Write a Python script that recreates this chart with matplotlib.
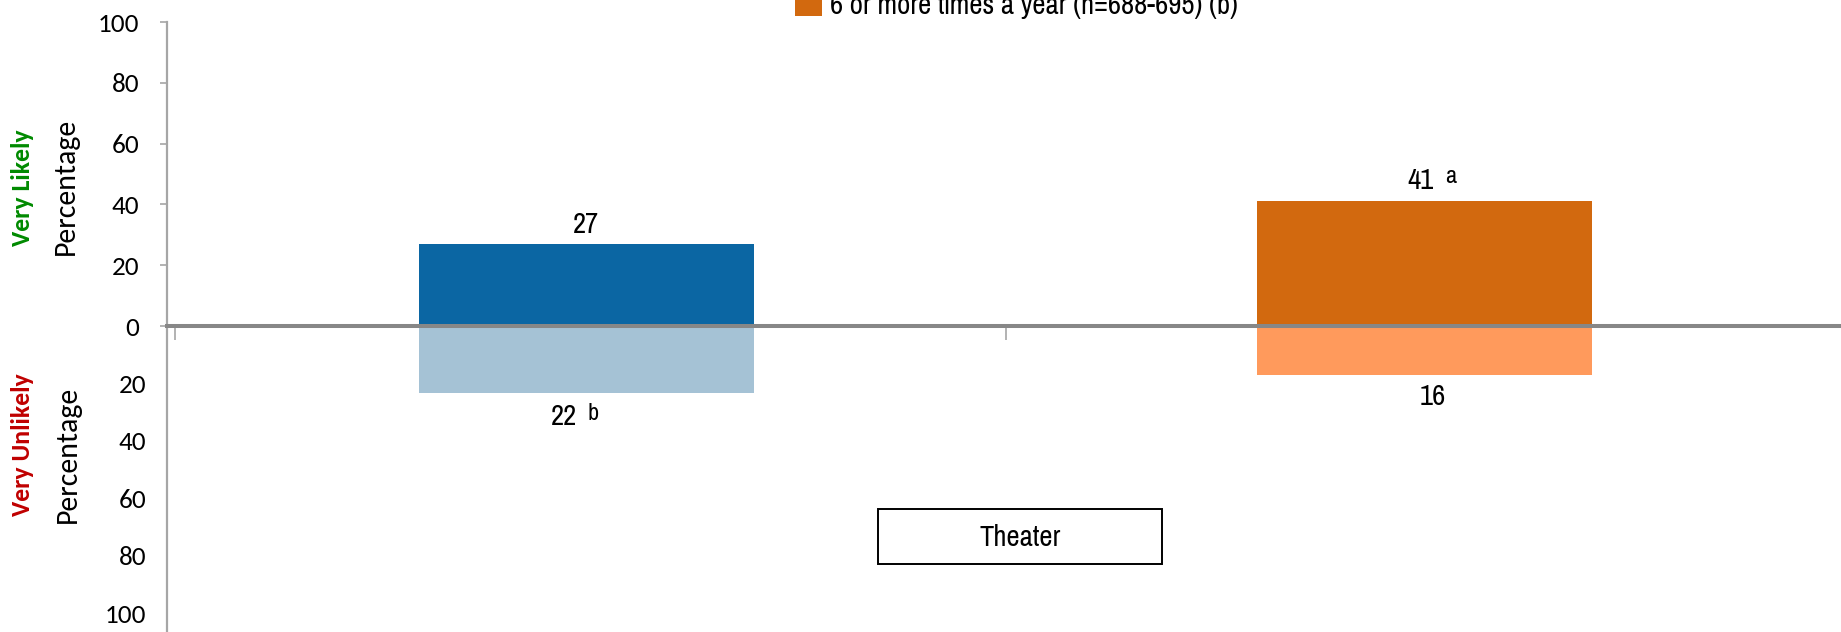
import matplotlib
matplotlib.use("Agg")
import matplotlib.pyplot as plt
from matplotlib import font_manager
from matplotlib.patches import Rectangle
import numpy as np

# Theater: share answering "very likely" (drawn up) and "very unlikely" (drawn down)
GROUPS = ["Less than 6 times a year", "6 or more times a year"]
LIKELY = [27, 41]
UNLIKELY = [22, 16]
LIKELY_SIG = ["", "a"]
UNLIKELY_SIG = ["b", ""]
LEGEND_LABEL = "6 or more times a year (n=688-695) (b)"
PANEL_LABEL = "Theater"
UP_TICKS = [0, 20, 40, 60, 80, 100]
DOWN_TICKS = [20, 40, 60, 80, 100]

DARK = ["#0B66A3", "#D2690F"]
LIGHT = ["#A5C2D5", "#FF9A5C"]
AXIS_GREY = "#A6A6A6"
ZERO_GREY = "#878787"

W, H = 1841, 632

_installed = {f.name for f in font_manager.fontManager.ttflist}


def pick(*names):
    for n in names:
        if n in _installed:
            return [n, "DejaVu Sans"]
    return ["DejaVu Sans"]


NARROW = pick("Liberation Sans Narrow", "Arial Narrow", "Pragati Narrow",
              "Archivo Narrow", "Roboto Condensed", "PT Sans Narrow",
              "IBM Plex Sans Condensed", "Liberation Sans")
CALIBRI = pick("Carlito", "Calibri", "Lato", "Open Sans")


def fx(px):
    return px / W


def fy(px_from_top):
    return (H - px_from_top) / H


fig = plt.figure(figsize=(W / 100, H / 100), dpi=100)

left, right = 167, 1844
top, zero_y = 22, 326
unit = (zero_y - top) / 100.0          # pixels per percentage point
ax = fig.add_axes([fx(left), 0, fx(right - left), (H - top) / H])
ax.set_xlim(-0.5, 1.5)
ax.set_ylim(-(H - zero_y) / unit, 100)
ax.patch.set_alpha(0)

for s in ("top", "right"):
    ax.spines[s].set_visible(False)
ax.spines["left"].set_color(AXIS_GREY)
ax.spines["left"].set_linewidth(1.6)
# zero baseline doubles as the category axis
ax.spines["bottom"].set_position(("data", 0))
ax.spines["bottom"].set_color(ZERO_GREY)
ax.spines["bottom"].set_linewidth(2.9)
ax.set_xticks([-0.49, 0.5])
ax.set_xticklabels([])
ax.tick_params(axis="x", direction="out", length=10, width=1.2, color=AXIS_GREY)

ax.set_yticks(UP_TICKS)
ax.set_yticklabels([str(t) for t in UP_TICKS])
ax.tick_params(axis="y", direction="out", length=5, width=1.2,
               color=AXIS_GREY, pad=15, labelsize=19.5)
for lab in ax.get_yticklabels():
    lab.set_fontfamily(CALIBRI)

x = np.arange(len(GROUPS))
bw = 0.40
ax.bar(x, LIKELY, width=bw, color=DARK, zorder=1)
ax.bar(x, [-v for v in UNLIKELY], width=bw, color=LIGHT, zorder=1)

# lower scale labels (no tick marks on the "unlikely" half)
ax_lab = fig.add_axes([fx(left), 0, fx(right - left), (H - zero_y) / H])
ax_lab.patch.set_alpha(0)
ax_lab.set_ylim(106.6, 0)
ax_lab.set_xticks([])
for s in ax_lab.spines.values():
    s.set_visible(False)
ax_lab.set_yticks(DOWN_TICKS)
ax_lab.set_yticklabels([str(t) for t in DOWN_TICKS])
ax_lab.tick_params(axis="y", length=0, pad=15, labelsize=19.5)
for lab in ax_lab.get_yticklabels():
    lab.set_fontfamily(CALIBRI)

# value labels with significance letters
num_kw = dict(textcoords="offset points", fontsize=22.5, fontfamily=NARROW,
              va="center", annotation_clip=False)
sig_kw = dict(textcoords="offset points", fontsize=19, fontfamily=NARROW,
              va="center", ha="left", annotation_clip=False)
for i, (v, sig) in enumerate(zip(LIKELY, LIKELY_SIG)):
    if sig:
        ax.annotate(str(v), (x[i], v), xytext=(-3, 15), ha="center", **num_kw)
        ax.annotate(sig, (x[i], v), xytext=(15, 18), **sig_kw)
    else:
        ax.annotate(str(v), (x[i], v), xytext=(0, 14), ha="center", **num_kw)
for i, (v, sig) in enumerate(zip(UNLIKELY, UNLIKELY_SIG)):
    if sig:
        ax.annotate(str(v), (x[i], -v), xytext=(-16, -17), ha="center", **num_kw)
        ax.annotate(sig, (x[i], -v), xytext=(1, -15), **sig_kw)
    else:
        ax.annotate(str(v), (x[i], -v), xytext=(6, -16), ha="center", **num_kw)

# axis titles
fig.text(fx(22), fy(188), "Very Likely", rotation=90, ha="center", va="center",
         color="#008A00", fontweight="bold", fontsize=18.5, fontfamily=CALIBRI)
fig.text(fx(66), fy(186), "Percentage", rotation=90, ha="center", va="center",
         fontsize=21.5, fontfamily=CALIBRI)
fig.text(fx(22), fy(445), "Very Unlikely", rotation=90, ha="center", va="center",
         color="#C00000", fontweight="bold", fontsize=18.5, fontfamily=CALIBRI)
fig.text(fx(68), fy(454), "Percentage", rotation=90, ha="center", va="center",
         fontsize=21.5, fontfamily=CALIBRI)

# legend entry (runs off the top edge)
fig.patches.append(Rectangle((fx(795), fy(16)), fx(27), 26 / H, transform=fig.transFigure,
                             facecolor=DARK[1], edgecolor="none"))
fig.text(fx(830), fy(14), LEGEND_LABEL, ha="left", va="baseline",
         fontsize=22.5, fontfamily=NARROW)

# panel label box
fig.patches.append(Rectangle((fx(878), fy(564)), fx(1162 - 878), (564 - 509) / H,
                             transform=fig.transFigure, facecolor="white",
                             edgecolor="black", linewidth=1.4, zorder=5))
fig.text(fx(1020), fy(537), PANEL_LABEL, ha="center", va="center",
         fontsize=22.5, fontfamily=NARROW, zorder=6)

fig.savefig("out.png", dpi=100)
